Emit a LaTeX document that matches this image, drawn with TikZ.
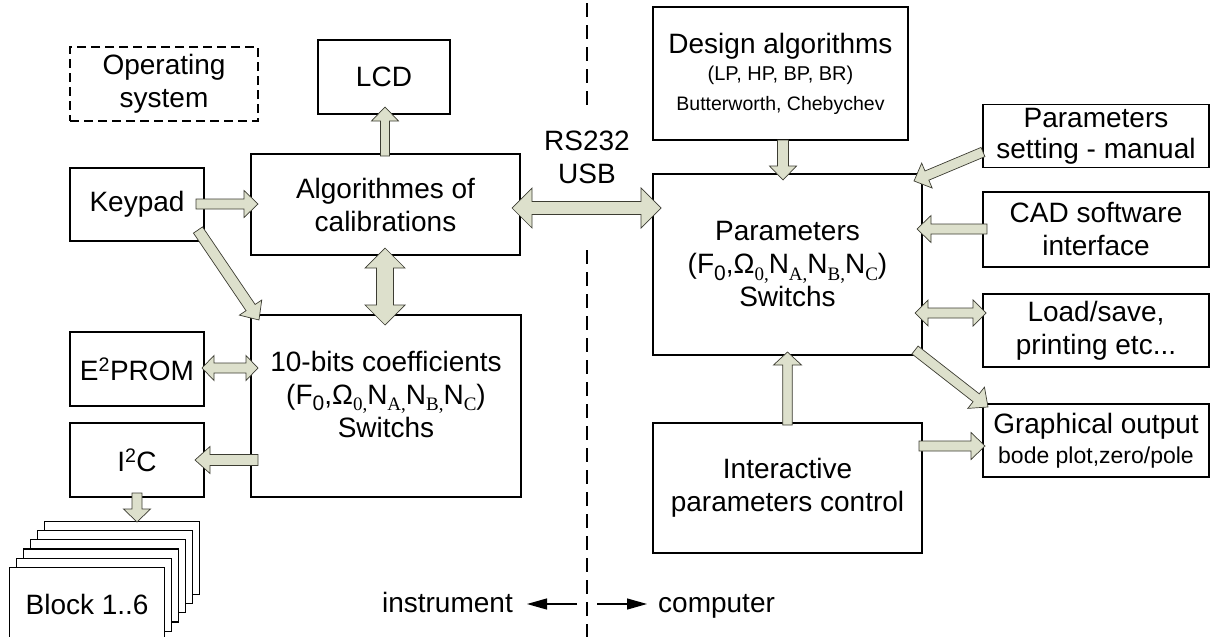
\documentclass[tikz,border=0pt]{standalone}
\usepackage{fontspec}
\setmainfont{Liberation Sans}
\newfontfamily\subserif{Liberation Serif}
\usetikzlibrary{calc,arrows.meta}
\definecolor{arrowfill}{RGB}{221,224,204}
\definecolor{arrowline}{RGB}{60,60,50}
\newcommand\mainsz{\fontsize{28}{33}\selectfont}
\newcommand\ssans[1]{\raisebox{-0.22em}{\fontsize{21}{21}\selectfont #1}}
\newcommand\sser[1]{\raisebox{-0.22em}{\fontsize{19}{19}\selectfont\subserif #1}}
\newcommand\formula{(F\ssans{0},Ω\sser{0,}N\sser{A,}N\sser{B,}N\sser{C})}
% single block arrow: start, tip, half shaft, half head, head length
\newcommand\barrow[5]{%
  \draw[barr] let \p1=(#1), \p2=(#2), \n1={atan2(\y2-\y1,\x2-\x1)},
    \n2={veclen(\x2-\x1,\y2-\y1)}, \n3={\n2-#5} in
    [shift={(\p1)}, rotate=\n1]
    (0,-#3) -- (\n3,-#3) -- (\n3,-#4) -- (\n2,0) -- (\n3,#4) -- (\n3,#3) -- (0,#3) -- cycle;}
% double block arrow
\newcommand\dbarrow[5]{%
  \draw[barr] let \p1=(#1), \p2=(#2), \n1={atan2(\y2-\y1,\x2-\x1)},
    \n2={veclen(\x2-\x1,\y2-\y1)}, \n3={\n2-#5} in
    [shift={(\p1)}, rotate=\n1]
    (0,0) -- (#5,#4) -- (#5,#3) -- (\n3,#3) -- (\n3,#4) -- (\n2,0) -- (\n3,-#4) -- (\n3,-#3) -- (#5,-#3) -- (#5,-#4) -- cycle;}
\begin{document}
\begin{tikzpicture}[x=1pt,y=-1pt,
  box/.style={draw, line width=1.2pt, inner sep=0pt, align=center, font=\mainsz},
  thickbox/.style={box, line width=2.4pt},
  barr/.style={draw=arrowline, fill=arrowfill, line width=0.7pt, line join=miter},
  divider/.style={line width=1.1pt, dash pattern=on 14pt off 8pt},
  lbl/.style={font=\mainsz, inner sep=0pt, align=center},
  smallarrow/.style={line width=1.2pt, -{Triangle[length=20pt,width=11pt]}}]
\useasboundingbox (0,0) rectangle (1210,637);
% left side
\node[box, dash pattern=on 9pt off 5pt, minimum width=188pt, minimum height=74pt] (os) at (164,84) {Operating\\system};
\node[box, minimum width=132pt, minimum height=74pt] (lcd) at (384,77) {LCD};
\node[box, minimum width=134pt, minimum height=73pt] (keypad) at (137,204.5) {Keypad};
\node[thickbox, minimum width=269pt, minimum height=101pt] (alg) at (385.5,204.5) {Algorithmes of\\calibrations};
\node[box, minimum width=270pt, minimum height=182pt] (coef) at (386,406) {10-bits coefficients\\\formula\\Switchs\\[-10pt]};
\node[box, minimum width=134pt, minimum height=74pt] (eprom) at (137,369) {E\textsuperscript{2}PROM};
\node[box, minimum width=134pt, minimum height=74pt] (i2c) at (137,460) {I\textsuperscript{2}C};
\foreach \k in {5,4,3,2,1}
  \node[box, fill=white, minimum width=155pt, minimum height=73pt, anchor=north west] (blk\k) at ({9+6.9*\k},{567-9.3*\k}) {};
\node[box, fill=white, minimum width=155pt, minimum height=73pt, anchor=north west] (blk0) at (9,567) {Block 1..6};
% right side
\node[box, minimum width=255pt, minimum height=133pt] (design) at (780.5,73.5)
  {Design algorithms\\[-6pt]{\fontsize{20}{24}\selectfont (LP, HP, BP, BR)}\\[-3pt]{\fontsize{19.5}{24}\selectfont Butterworth, Chebychev}};
\node[thickbox, minimum width=269pt, minimum height=181pt] (param) at (787.5,264.5) {Parameters\\\formula\\Switchs};
\node[box, minimum width=269pt, minimum height=130pt] (inter) at (787.5,488) {Interactive\\parameters control};
\node[box, minimum width=226pt, minimum height=63pt] (pset) at (1096,136) {Parameters\\[-2pt]setting - manual};
\node[box, minimum width=226pt, minimum height=75pt] (cad) at (1096,229.5) {CAD software\\interface};
\node[box, minimum width=226pt, minimum height=73pt] (load) at (1096,330.5) {Load/save,\\printing etc...};
\node[box, minimum width=226pt, minimum height=73pt] (graph) at (1096,440.5) {Graphical output\\[-3pt]{\fontsize{23}{26}\selectfont bode plot,zero/pole}};
% divider and labels
\node[lbl] (link) at (587,157) {RS232\\USB};
\coordinate (d1) at (587,3);
\coordinate (d2) at (587,112);
\coordinate (d3) at (587,250);
\coordinate (d4) at (587,637);
\draw[divider] (d1) -- (d2);
\draw[divider] (d3) -- (d4);
\node[lbl, anchor=base east] (instr) at (513,612) {instrument};
\node[lbl, anchor=base west] (comp) at (658,612) {computer};
\coordinate (ia) at (577,604);
\coordinate (ib) at (527,604);
\coordinate (ca) at (597,604);
\coordinate (cb) at (647,604);
\draw[smallarrow] (ia) -- (ib);
\draw[smallarrow] (ca) -- (cb);
% arrow end points
\coordinate (a1s) at (196,204);  \coordinate (a1e) at (258,204);
\coordinate (a2s) at (198,230);  \coordinate (a2e) at (259,320);
\coordinate (a3s) at (385,156);  \coordinate (a3e) at (385,107);
\coordinate (a4s) at (385,248);  \coordinate (a4e) at (385,325);
\coordinate (a5s) at (512,208);  \coordinate (a5e) at (661,208);
\coordinate (a6s) at (202,368);  \coordinate (a6e) at (258,368);
\coordinate (a7s) at (258,460);  \coordinate (a7e) at (195,460);
\coordinate (a8s) at (137,493);  \coordinate (a8e) at (137,522);
\coordinate (a9s) at (783,140);  \coordinate (a9e) at (783,180);
\coordinate (a10s) at (983,152); \coordinate (a10e) at (914,181);
\coordinate (a11s) at (987,229); \coordinate (a11e) at (917,229);
\coordinate (a12s) at (915,313); \coordinate (a12e) at (986,313);
\coordinate (a13s) at (915,350); \coordinate (a13e) at (988,407);
\coordinate (a14s) at (787.5,425); \coordinate (a14e) at (787.5,352);
\coordinate (a15s) at (919,446); \coordinate (a15e) at (985,446);
\barrow{a1s}{a1e}{5}{13.5}{14}
\barrow{a2s}{a2e}{5.5}{13.5}{15}
\barrow{a3s}{a3e}{4.5}{13.5}{14}
\dbarrow{a4s}{a4e}{8.5}{20}{20}
\dbarrow{a5s}{a5e}{6.5}{20}{20}
\dbarrow{a6s}{a6e}{5}{12.5}{12}
\barrow{a7s}{a7e}{5.5}{13.5}{15}
\barrow{a8s}{a8e}{5}{13.5}{13}
\barrow{a9s}{a9e}{5.5}{13.5}{14}
\barrow{a10s}{a10e}{5}{13.5}{14}
\barrow{a11s}{a11e}{5}{13.5}{14}
\dbarrow{a12s}{a12e}{5}{13}{13}
\barrow{a13s}{a13e}{5}{13.5}{15}
\barrow{a14s}{a14e}{4.8}{14}{13}
\barrow{a15s}{a15e}{5}{13.5}{14}
\end{tikzpicture}
\end{document}
